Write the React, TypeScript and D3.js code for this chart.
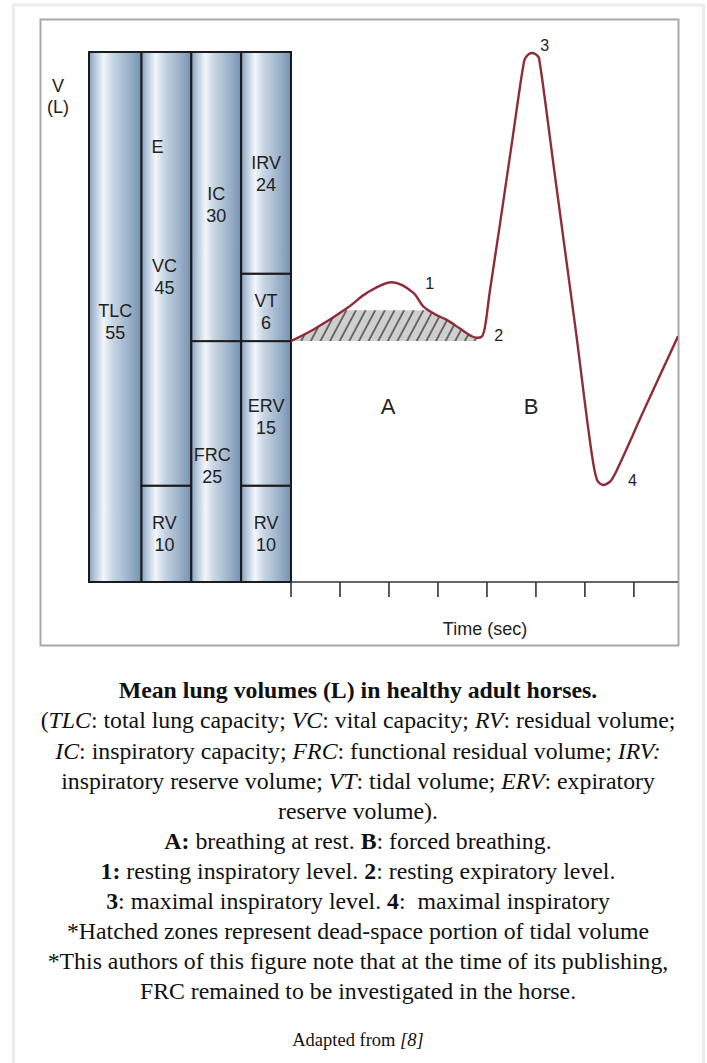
import React from "react";
import * as d3 from "d3";

// ---------- data ----------
const segLabels = ["TLC", "RV", "VC", "FRC", "IC", "RV", "ERV", "VT", "IRV"];
const segValues = [55, 10, 45, 25, 30, 10, 15, 6, 24];
const segColumn = [0, 1, 1, 2, 2, 3, 3, 3, 3];
const segBottom = [0, 0, 10, 0, 25, 0, 10, 25, 32]; // litres, as drawn
const segTop = [55, 10, 55, 25, 55, 10, 25, 32, 55];

const curveTime = [0, 0.46, 1.14, 1.55, 2.06, 2.5, 2.7, 2.97, 3.18, 3.45, 3.69, 3.79, 3.89, 3.94, 4.06, 4.27, 4.51, 4.74, 4.78, 4.91, 5.05, 5.08, 5.39, 5.8, 6.2, 6.27, 6.37, 6.51, 6.58, 7.22, 7.9];
const curveVolume = [25, 26.2, 28.4, 30, 31.1, 30, 28.6, 27.7, 27.2, 26.3, 25.5, 25.35, 25.45, 26.0, 30.2, 37.3, 45.6, 53.5, 54.35, 54.9, 54.5, 53.8, 42.1, 26.6, 11.5, 10.4, 10.07, 10.4, 10.9, 18.0, 25.5];

const hatchEndIndex = 11;
const hatchCeiling = 28.2;
const restLevel = 25;

const timeTicks = [0, 1, 2, 3, 4, 5, 6, 7];

const pointLabels = ["1", "2", "3", "4"];
const pointTime = [2.83, 4.24, 5.18, 6.97];
const pointVolume = [31.0, 25.6, 55.7, 10.6];

const phaseLabels = ["A", "B"];
const phaseTime = [1.98, 4.9];
const phaseVolume = [18.3, 18.3];

// ---------- layout ----------
const W = 707;
const H = 1063;
const yScale = d3.scaleLinear().domain([0, 55]).range([582, 52]);
const colEdges = d3.scaleLinear().domain([0, 1, 4]).range([89, 141.5, 291]);
const xScale = d3.scaleLinear().domain([0, 7.9]).range([291, 678]);

// label offsets (px) relative to segment centre
const labelDy = [4, 0, 8, 4, 8, 0, 3, 4, 11];
const labelDx = [0, -2, -2, -4, 0, 0, 0, 0, 0];

const sans = "'Liberation Sans', Arial, Helvetica, sans-serif";
const serif = "'Liberation Serif', 'Times New Roman', Times, serif";

const line = d3
  .line<number>()
  .x((i) => xScale(curveTime[i]))
  .y((i) => yScale(curveVolume[i]))
  .curve(d3.curveCatmullRom.alpha(0.5));

const area = d3
  .area<number>()
  .x((i) => xScale(curveTime[i]))
  .y0(yScale(restLevel))
  .y1((i) => yScale(curveVolume[i]))
  .curve(d3.curveCatmullRom.alpha(0.5));

const idx = curveTime.map((_, i) => i);
const hatchIdx = idx.slice(0, hatchEndIndex + 2);

type Run = { t: string; b?: boolean; i?: boolean };
const captionLines: Run[][] = [
  [{ t: "Mean lung volumes (L) in healthy adult horses.", b: true }],
  [
    { t: "(" },
    { t: "TLC", i: true },
    { t: ": total lung capacity; " },
    { t: "VC", i: true },
    { t: ": vital capacity; " },
    { t: "RV", i: true },
    { t: ": residual volume;" },
  ],
  [
    { t: "IC", i: true },
    { t: ": inspiratory capacity; " },
    { t: "FRC", i: true },
    { t: ": functional residual volume; " },
    { t: "IRV:", i: true },
  ],
  [
    { t: "inspiratory reserve volume; " },
    { t: "VT", i: true },
    { t: ": tidal volume; " },
    { t: "ERV", i: true },
    { t: ": expiratory" },
  ],
  [{ t: "reserve volume)." }],
  [
    { t: "A:", b: true },
    { t: " breathing at rest. " },
    { t: "B", b: true },
    { t: ": forced breathing." },
  ],
  [
    { t: "1:", b: true },
    { t: " resting inspiratory level. " },
    { t: "2", b: true },
    { t: ": resting expiratory level." },
  ],
  [
    { t: "3", b: true },
    { t: ": maximal inspiratory level. " },
    { t: "4", b: true },
    { t: ":  maximal inspiratory" },
  ],
  [{ t: "*Hatched zones represent dead-space portion of tidal volume" }],
  [{ t: "*This authors of this figure note that at the time of its publishing," }],
  [{ t: "FRC remained to be investigated in the horse." }],
];
const captionTop = 690.5;
const captionStep = 30.1;

export default function App() {
  return (
    <svg
      width={W}
      height={H}
      style={{ position: "absolute", left: 0, top: 0, background: "#fff" }}
      xmlns="http://www.w3.org/2000/svg"
    >
      <defs>
        <linearGradient id="cyl" x1="0" y1="0" x2="1" y2="0">
          <stop offset="0%" stopColor="#87a0bd" />
          <stop offset="12%" stopColor="#b8cadd" />
          <stop offset="28%" stopColor="#f3f6fa" />
          <stop offset="45%" stopColor="#c8d6e4" />
          <stop offset="75%" stopColor="#9db3cb" />
          <stop offset="100%" stopColor="#7590b0" />
        </linearGradient>
        <pattern id="hatch" patternUnits="userSpaceOnUse" width="8.5" height="10" patternTransform="rotate(28)">
          <rect width="8.5" height="10" fill="#cfcfcf" />
          <line x1="1" y1="-1" x2="1" y2="11" stroke="#333" strokeWidth="1.3" />
        </pattern>
        <clipPath id="hatchClip">
          <rect
            x={xScale(0)}
            y={yScale(hatchCeiling)}
            width={xScale(curveTime[hatchEndIndex]) - xScale(0)}
            height={yScale(restLevel) - yScale(hatchCeiling)}
          />
        </clipPath>
        <clipPath id="frameClip">
          <rect x={41} y={20} width={637} height={625} />
        </clipPath>
      </defs>

      {/* outer frame */}
      <rect x={13.5} y={5} width={690} height={H + 20} fill="none" stroke="#ebebeb" strokeWidth={3} />
      {/* inner frame */}
      <rect x={40.5} y={19.5} width={638} height={626} fill="none" stroke="#a8a8a8" strokeWidth={2} />

      {/* columns */}
      {segLabels.map((lab, k) => {
        const x0 = colEdges(segColumn[k]);
        const w = colEdges(segColumn[k] + 1) - x0;
        const y0 = yScale(segTop[k]);
        const y1 = yScale(segBottom[k]);
        return (
          <rect key={"s" + k} x={x0} y={y0} width={w} height={y1 - y0} fill="url(#cyl)" stroke="#1c1c1c" strokeWidth={2} />
        );
      })}

      {/* column labels */}
      {segLabels.map((lab, k) => {
        const cx = (colEdges(segColumn[k]) + colEdges(segColumn[k] + 1)) / 2 + labelDx[k];
        const cy = (yScale(segTop[k]) + yScale(segBottom[k])) / 2 + labelDy[k];
        return (
          <text key={"l" + k} x={cx} textAnchor="middle" fontFamily={sans} fontSize={18} fill="#222">
            <tspan x={cx} y={cy - 11 + 6.5}>{lab}</tspan>
            <tspan x={cx} y={cy + 11 + 6.5}>{segValues[k]}</tspan>
          </text>
        );
      })}
      <text x={colEdges(1) + 16} y={146.5 + 6.5} textAnchor="middle" fontFamily={sans} fontSize={18} fill="#222">
        E
      </text>

      {/* y label */}
      <text x={58} textAnchor="middle" fontFamily={sans} fontSize={18} fill="#222">
        <tspan x={58} y={85 + 6.5}>V</tspan>
        <tspan x={58} y={106.5 + 6.5}>(L)</tspan>
      </text>

      {/* time axis */}
      <line x1={xScale(0)} x2={xScale(7.9)} y1={yScale(0)} y2={yScale(0)} stroke="#333" strokeWidth={1.6} />
      {timeTicks.map((t) => (
        <line key={"t" + t} x1={xScale(t)} x2={xScale(t)} y1={yScale(0)} y2={yScale(0) + 15} stroke="#333" strokeWidth={1.6} />
      ))}
      <text x={485} y={628 + 6.5} textAnchor="middle" fontFamily={sans} fontSize={18} fill="#222">
        Time (sec)
      </text>

      {/* hatched dead-space */}
      <path d={area(hatchIdx) || ""} fill="url(#hatch)" clipPath="url(#hatchClip)" />

      {/* spirogram */}
      <path d={line(idx) || ""} fill="none" stroke="#8e2d38" strokeWidth={2.4} strokeLinejoin="round" clipPath="url(#frameClip)" />

      {/* point labels */}
      {pointLabels.map((p, k) => (
        <text key={"p" + k} x={xScale(pointTime[k])} y={yScale(pointVolume[k]) + 5.7} textAnchor="middle" fontFamily={sans} fontSize={16} fill="#222">
          {p}
        </text>
      ))}
      {phaseLabels.map((p, k) => (
        <text key={"ph" + k} x={xScale(phaseTime[k])} y={yScale(phaseVolume[k]) + 8} textAnchor="middle" fontFamily={sans} fontSize={22} fill="#222">
          {p}
        </text>
      ))}

      {/* caption */}
      {captionLines.map((runs, li) => (
        <text
          key={"c" + li}
          x={358}
          y={captionTop + li * captionStep + 7.8}
          textAnchor="middle"
          fontFamily={serif}
          fontSize={23.8}
          fill="#111"
          style={{ whiteSpace: "pre" }}
        >
          {runs.map((r, ri) => (
            <tspan key={ri} fontWeight={r.b ? "bold" : "normal"} fontStyle={r.i ? "italic" : "normal"}>
              {r.t}
            </tspan>
          ))}
        </text>
      ))}
      <text x={358} y={1040 + 6} textAnchor="middle" fontFamily={serif} fontSize={18.5} fill="#111" style={{ whiteSpace: "pre" }}>
        <tspan>Adapted from </tspan>
        <tspan fontStyle="italic">[8]</tspan>
      </text>
    </svg>
  );
}
